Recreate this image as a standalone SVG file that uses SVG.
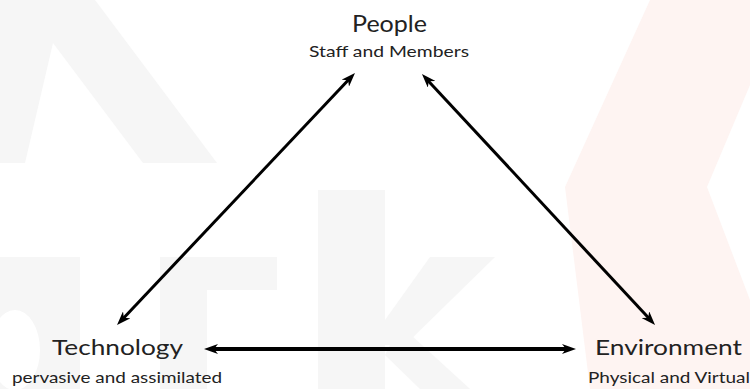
<svg xmlns="http://www.w3.org/2000/svg" width="750" height="389" viewBox="0 0 750 389">
<defs>
<style>
.wm-gray{fill:#f6f6f6}
.wm-pink{fill:#fef4f2}
.conn{stroke:#000;fill:none;marker-start:url(#ah);marker-end:url(#ah)}
.title{font-family:Lato,"Liberation Sans",Arial,sans-serif;fill:#222;text-anchor:middle}
.sub{font-family:Lato,"Liberation Sans",Arial,sans-serif;fill:#222;font-size:15px;text-anchor:middle}
</style>
<marker id="ah" viewBox="0 0 14 10" refX="6" refY="5" markerWidth="14" markerHeight="10" markerUnits="userSpaceOnUse" orient="auto-start-reverse">
<path d="M0,0 L14,5 L0,10 L4,5 z" fill="#000"/>
</marker>
</defs>
<rect width="750" height="389" fill="#fff"/>
<g id="watermark">
<polygon class="wm-gray" points="0,0 95,0 217,163 143,163 53,43 25,163 0,163"/>
<path class="wm-gray" fill-rule="evenodd" d="M0,257 L80,257 L80,389 L0,389 z M-10,350 a25,40 0 1,0 50,0 a25,40 0 1,0 -50,0 z"/>
<polygon class="wm-gray" points="160,257 277,257 277,290 207,290 207,389 160,389"/>
<polygon class="wm-gray" points="318,190 385,190 385,389 318,389"/>
<polygon class="wm-gray" points="430,257 495,257 405,345 385,345 385,320"/>
<polygon class="wm-gray" points="400,325 470,389 420,389 385,355"/>
<polygon class="wm-pink" points="650,0 750,0 750,85 707,187 750,300 750,389 590,389 565,187"/>
</g>
<g id="connectors">
<line class="conn" x1="122.5" y1="319.2" x2="349.5" y2="78.8" stroke-width="3"/>
<line class="conn" x1="427.4" y1="79.9" x2="649.6" y2="319.1" stroke-width="3"/>
<line class="conn" x1="212" y1="349" x2="568" y2="349" stroke-width="4"/>
</g>
<g id="node-people">
<text class="title" x="389.5" y="32" font-size="23" textLength="75" lengthAdjust="spacingAndGlyphs">People</text>
<text class="sub" x="389" y="57" textLength="160" lengthAdjust="spacingAndGlyphs">Staff and Members</text>
</g>
<g id="node-technology">
<text class="title" x="117.5" y="355" font-size="21" textLength="131" lengthAdjust="spacingAndGlyphs">Technology</text>
<text class="sub" x="117" y="383" textLength="210" lengthAdjust="spacingAndGlyphs">pervasive and assimilated</text>
</g>
<g id="node-environment">
<text class="title" x="668.5" y="355" font-size="21" textLength="147" lengthAdjust="spacingAndGlyphs">Environment</text>
<text class="sub" x="669" y="383" textLength="162" lengthAdjust="spacingAndGlyphs">Physical and Virtual</text>
</g>
</svg>
